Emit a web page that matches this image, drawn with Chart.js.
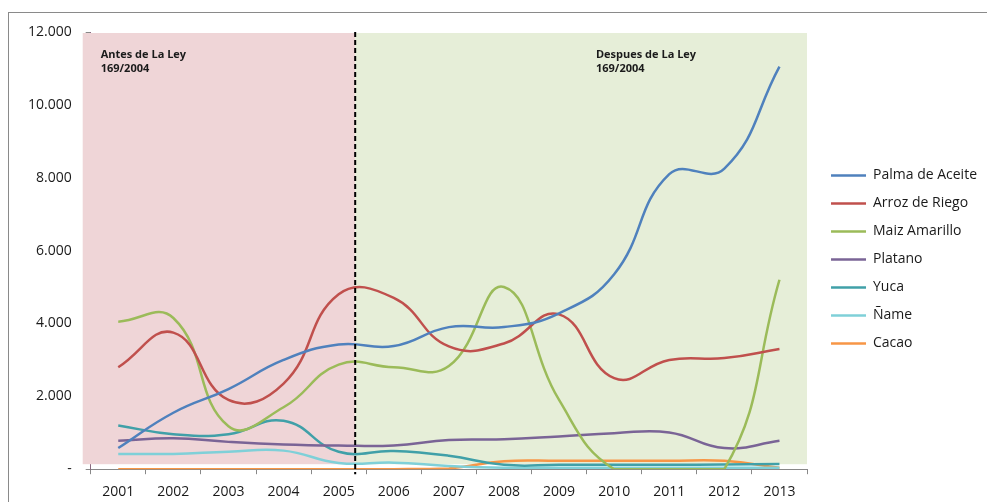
<!DOCTYPE html>
<html>
<head>
<meta charset="utf-8">
<script src="https://cdn.jsdelivr.net/npm/chart.js@4.4.0/dist/chart.umd.min.js"></script>
<style>
    html, body { margin: 0; padding: 0; background: #fff; overflow: hidden; }
    #wrap { position: relative; width: 987px; height: 502px; overflow: hidden; }
    #frame { position: absolute; left: 8px; top: 12px; width: 1000px; height: 520px; border: 1px solid #8a8a8a; }
    #chart { position: absolute; left: 0; top: 0; }
</style>
</head>
<body>
<div id="wrap">
    <div id="frame"></div>
    <canvas id="chart" width="987" height="509"></canvas>
</div>
<script>
// Categories
const years = ['2001', '2002', '2003', '2004', '2005', '2006', '2007', '2008', '2009', '2010', '2011', '2012', '2013'];

// Series values (hectares)
const palma   = [580, 1550, 2200, 3000, 3420, 3380, 3900, 3900, 4280, 5350, 8100, 8250, 11050];
const arroz   = [2800, 3750, 1900, 2350, 4800, 4700, 3370, 3450, 4250, 2500, 3000, 3050, 3300];
const maiz    = [4050, 4150, 1180, 1700, 2870, 2800, 2830, 5000, 1900, 0, 0, 0, 5200];
const platano = [780, 850, 750, 680, 650, 650, 800, 820, 900, 990, 1010, 580, 780];
const yuca    = [1200, 960, 960, 1330, 480, 500, 370, 120, 120, 120, 120, 130, 140];
const name    = [420, 420, 480, 510, 170, 180, 90, 40, 40, 40, 40, 40, 40];
const cacao   = [0, 0, 0, 0, 0, 0, 20, 220, 230, 230, 230, 230, 40];

// Y axis ticks
const yTicks = [0, 2000, 4000, 6000, 8000, 10000, 12000];

// Annotations
const beforeLabel = ['Antes de La Ley', '169/2004'];
const afterLabel = ['Despues de La Ley', '169/2004'];
const lawIndex = 4.3; // position of the dashed divider between 2005 and 2006

const font = "'Open Sans', sans-serif";

function series(label, data, color) {
    return {
        label: label,
        data: data,
        borderColor: color,
        backgroundColor: color,
        borderWidth: 2.5,
        pointRadius: 0,
        tension: 0.45,
        fill: false
    };
}

// Shaded periods, divider and period labels
const periodsPlugin = {
    id: 'periods',
    afterLayout(chart) {
        // nudge the legend a little away from the plot
        chart.legend.left += 10;
        chart.legend.right += 10;
        chart.legend.top -= 11;
        chart.legend.bottom -= 11;
    },
    beforeDatasetsDraw(chart) {
        const ctx = chart.ctx;
        const area = chart.chartArea;
        const x = chart.scales.x;
        const divX = x.getPixelForValue(lawIndex);
        const bandBottom = area.bottom - 5;
        ctx.save();
        ctx.fillStyle = '#efd5d7';
        ctx.fillRect(area.left - 8, area.top + 1, divX - area.left + 8, bandBottom - area.top - 1);
        ctx.fillStyle = '#e6eed8';
        ctx.fillRect(divX, area.top + 1, area.right - divX, bandBottom - area.top - 1);

        ctx.fillStyle = '#1a1a1a';
        ctx.font = "bold 11px " + font;
        ctx.textBaseline = 'middle';
        ctx.textAlign = 'left';
        ctx.fillText(beforeLabel[0], area.left + 10, area.top + 23);
        ctx.fillText(beforeLabel[1], area.left + 10, area.top + 37);
        const ax = x.getPixelForValue(8.67);
        ctx.fillText(afterLabel[0], ax, area.top + 23);
        ctx.fillText(afterLabel[1], ax, area.top + 37);
        ctx.restore();
    },
    afterDatasetsDraw(chart) {
        const ctx = chart.ctx;
        const area = chart.chartArea;
        const divX = chart.scales.x.getPixelForValue(lawIndex);
        ctx.save();
        ctx.strokeStyle = '#000';
        ctx.lineWidth = 2;
        ctx.setLineDash([5, 3]);
        ctx.beginPath();
        ctx.moveTo(divX, area.top);
        ctx.lineTo(divX, area.bottom + 5);
        ctx.stroke();
        ctx.restore();
    }
};

const ctx = document.getElementById('chart').getContext('2d');
new Chart(ctx, {
    type: 'line',
    data: {
        labels: years,
        datasets: [
            series('Palma de Aceite', palma, '#4f81bd'),
            series('Arroz de Riego', arroz, '#c0504d'),
            series('Maiz Amarillo', maiz, '#9bbb59'),
            series('Platano', platano, '#7a6496'),
            series('Yuca', yuca, '#40a0a8'),
            series('Ñame', name, '#7fd0d8'),
            series('Cacao', cacao, '#f79646')
        ]
    },
    options: {
        responsive: false,
        animation: false,
        layout: { padding: { left: 14, right: 10, top: 32, bottom: 0 } },
        plugins: {
            legend: {
                position: 'right',
                labels: {
                    usePointStyle: true,
                    pointStyle: 'line',
                    pointStyleWidth: 35,
                    color: '#1a1a1a',
                    padding: 14,
                    font: { family: font, size: 14 }
                }
            },
            tooltip: { enabled: false }
        },
        scales: {
            x: {
                offset: true,
                grid: { offset: true, drawOnChartArea: false, drawTicks: true, tickLength: 5, color: '#888' },
                border: { color: '#888' },
                ticks: { color: '#1a1a1a', padding: 9, font: { family: font, size: 14 } }
            },
            y: {
                min: 0,
                max: 12000,
                afterBuildTicks(axis) {
                    axis.ticks = yTicks.map(v => ({ value: v }));
                },
                grid: { drawOnChartArea: false, drawTicks: true, tickLength: 5, color: '#888' },
                border: { color: '#8a6a80' },
                ticks: {
                    color: '#1a1a1a',
                    padding: 14,
                    font: { family: font, size: 14 },
                    callback: v => v === 0 ? '-' : v.toLocaleString('de-DE')
                }
            }
        }
    },
    plugins: [periodsPlugin]
});
</script>
</body>
</html>
